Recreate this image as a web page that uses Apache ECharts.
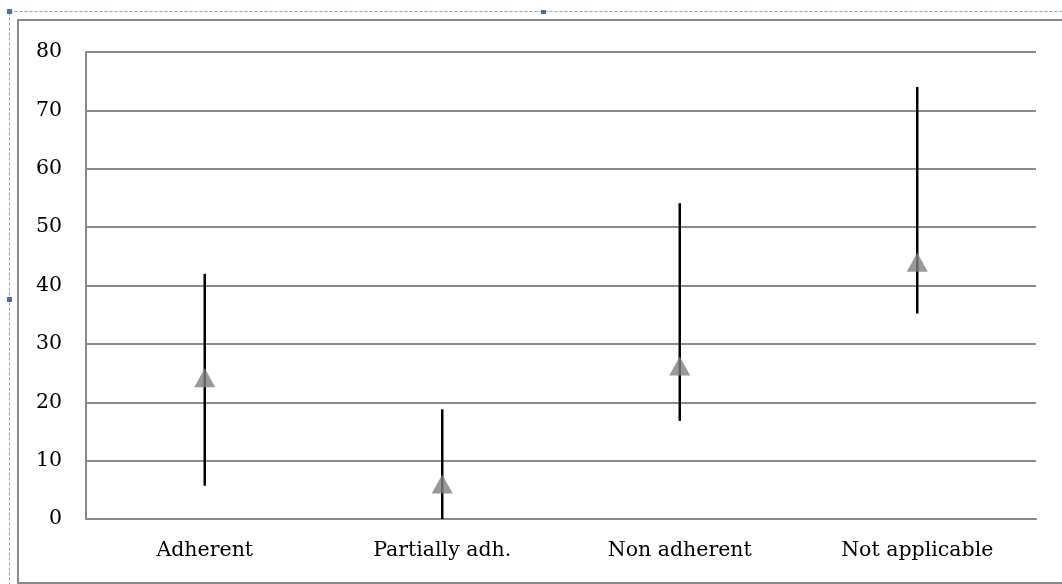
<!DOCTYPE html>
<html>
<head>
<meta charset="utf-8">
<script src="https://cdn.jsdelivr.net/npm/echarts@6/dist/echarts.min.js"></script>
<style>
html,body{margin:0;padding:0;background:#fff;}
#c{width:1062px;height:584px;}
</style>
</head>
<body>
<div id="c"></div>
<script>
var categories = ['Adherent', 'Partially adh.', 'Non adherent', 'Not applicable'];
var means = [24.2, 6, 26.2, 44];
var lowers = [5.7, 0, 16.8, 35.2];
var uppers = [42, 18.8, 54.1, 74];
var yTicks = [0, 10, 20, 30, 40, 50, 60, 70, 80];

var errData = categories.map(function (c, i) { return [i, lowers[i], uppers[i]]; });
var meanData = categories.map(function (c, i) { return [i, means[i]]; });

var chart = echarts.init(document.getElementById('c'), null, {renderer: 'canvas'});
var FONT = 'DejaVu Serif';
chart.setOption({
  animation: false,
  backgroundColor: '#fff',
  grid: {left: 86, right: 26, top: 52, bottom: 65},
  xAxis: {
    type: 'category',
    data: categories,
    boundaryGap: true,
    axisLine: {show: true, lineStyle: {color: '#8a8a8a', width: 2}},
    axisTick: {show: false},
    axisLabel: {color: '#000', fontFamily: FONT, fontSize: 20.5, margin: 21}
  },
  yAxis: {
    type: 'value',
    min: yTicks[0],
    max: yTicks[yTicks.length - 1],
    interval: 10,
    axisLine: {show: true, lineStyle: {color: '#8a8a8a', width: 2}},
    axisTick: {show: false},
    splitLine: {lineStyle: {color: '#8a8a8a', width: 2}},
    axisLabel: {color: '#000', fontFamily: FONT, fontSize: 20.5, margin: 24}
  },
  graphic: [
    {type: 'rect', shape: {x: 9.5, y: 11.5, width: 1062, height: 580}, style: {fill: 'none', stroke: '#7fa6cf', lineWidth: 1, lineDash: [3, 2]}, z: 0},
    {type: 'rect', shape: {x: 18, y: 20, width: 1060, height: 563}, style: {fill: 'none', stroke: '#8a8a8a', lineWidth: 2}, z: 0},
    {type: 'rect', shape: {x: 7, y: 9, width: 5, height: 5}, style: {fill: '#4a6fa5'}},
    {type: 'rect', shape: {x: 541, y: 10, width: 5, height: 4}, style: {fill: '#4a6fa5'}},
    {type: 'rect', shape: {x: 7, y: 297, width: 5, height: 5}, style: {fill: '#4a6fa5'}}
  ],
  series: [
    {
      type: 'custom',
      data: errData,
      z: 2,
      renderItem: function (params, api) {
        var x = api.value(0);
        var lo = api.coord([x, api.value(1)]);
        var hi = api.coord([x, api.value(2)]);
        return {
          type: 'line',
          shape: {x1: lo[0], y1: lo[1], x2: hi[0], y2: hi[1]},
          style: {stroke: '#000', lineWidth: 2.5}
        };
      }
    },
    {
      type: 'scatter',
      data: meanData,
      symbol: 'triangle',
      symbolSize: [21, 19],
      itemStyle: {color: '#808080'},
      z: 3
    }
  ]
});
</script>
</body>
</html>
